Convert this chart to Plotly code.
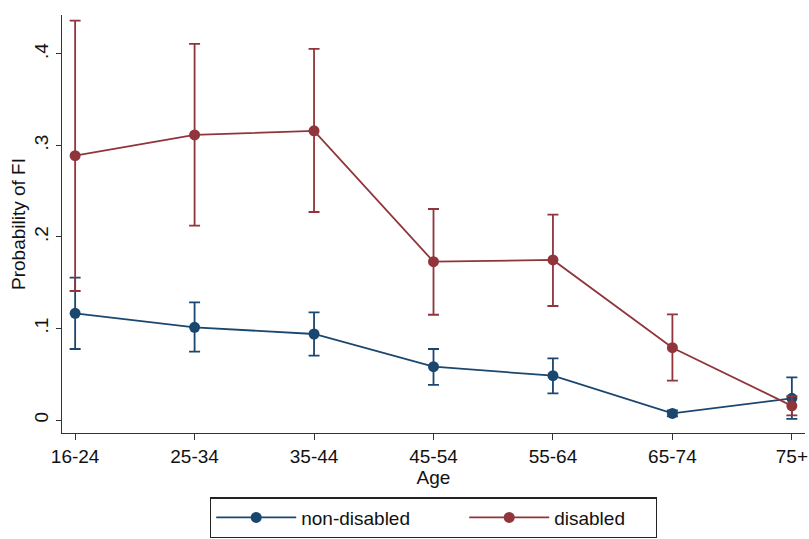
import plotly.graph_objects as go

ages = ["16-24", "25-34", "35-44", "45-54", "55-64", "65-74", "75+"]

nondis_p = [0.1166, 0.1013, 0.094, 0.0583, 0.0484, 0.0072, 0.0237]
nondis_lo = [0.0776, 0.0747, 0.0703, 0.0383, 0.0292, 0.0040, 0.0012]
nondis_hi = [0.1555, 0.1286, 0.1177, 0.0776, 0.0674, 0.0105, 0.0465]

dis_p = [0.2889, 0.3115, 0.316, 0.173, 0.1749, 0.079, 0.0155]
dis_lo = [0.141, 0.2124, 0.2273, 0.115, 0.1246, 0.043, 0.0050]
dis_hi = [0.4364, 0.411, 0.4055, 0.2306, 0.2244, 0.1155, 0.0260]

ytick_vals = [0, 0.1, 0.2, 0.3, 0.4]
ytick_text = ["0", ".1", ".2", ".3", ".4"]

BLUE = "#1a476f"
RED = "#90353b"
FONT = "Liberation Sans, Arial, sans-serif"

x_idx = list(range(len(ages)))

fig = go.Figure()

def add_series(name, p, lo, hi, color, lw):
    fig.add_trace(go.Scatter(
        x=x_idx, y=p, name=name, mode="lines+markers",
        line=dict(color=color, width=1.8),
        marker=dict(color=color, size=11),
        legendwidth=lw,
        error_y=dict(type="data", symmetric=False,
                     array=[h - v for h, v in zip(hi, p)],
                     arrayminus=[v - l for v, l in zip(p, lo)],
                     color=color, thickness=1.8, width=5.5),
    ))

add_series("non-disabled", nondis_p, nondis_lo, nondis_hi, BLUE, 158)
add_series("disabled", dis_p, dis_lo, dis_hi, RED, 96)

fig.update_layout(
    template="none",
    width=809, height=539,
    margin=dict(l=62, r=4, t=15, b=106, autoexpand=False),
    paper_bgcolor="white", plot_bgcolor="white",
    font=dict(family=FONT, size=19, color="#111111"),
    showlegend=True,
    legend=dict(
        orientation="h", x=0.5, xanchor="center", y=-0.154, yanchor="top",
        bordercolor="#222222", borderwidth=1.2,
        font=dict(size=19, family=FONT),
        entrywidthmode="pixels",
        itemwidth=80,
    ),
    xaxis=dict(
        range=[-0.11, 6.11], automargin=False,
        tickmode="array", tickvals=x_idx, ticktext=ages,
        showline=True, linecolor="#333333", linewidth=1.3,
        ticks="outside", ticklen=6, tickcolor="#333333", tickwidth=1.3,
        showgrid=False, zeroline=False,
        tickfont=dict(size=19),
        title=dict(text="Age", font=dict(size=19), standoff=0),
    ),
    yaxis=dict(
        range=[-0.0142, 0.4426], automargin=False,
        tickmode="array", tickvals=ytick_vals, ticktext=ytick_text,
        tickangle=-90,
        showline=True, linecolor="#333333", linewidth=1.3,
        ticks="outside", ticklen=5, tickcolor="#333333", tickwidth=1.3,
        showgrid=False, zeroline=False,
        tickfont=dict(size=19),
        title=dict(text="Probability of FI", font=dict(size=19), standoff=0),
    ),
)

# remove the default page margin so the 809x539 figure fills the window exactly
fig.write_html("out.html", config={"displayModeBar": False},
               post_script="document.body.style.margin='0';")
